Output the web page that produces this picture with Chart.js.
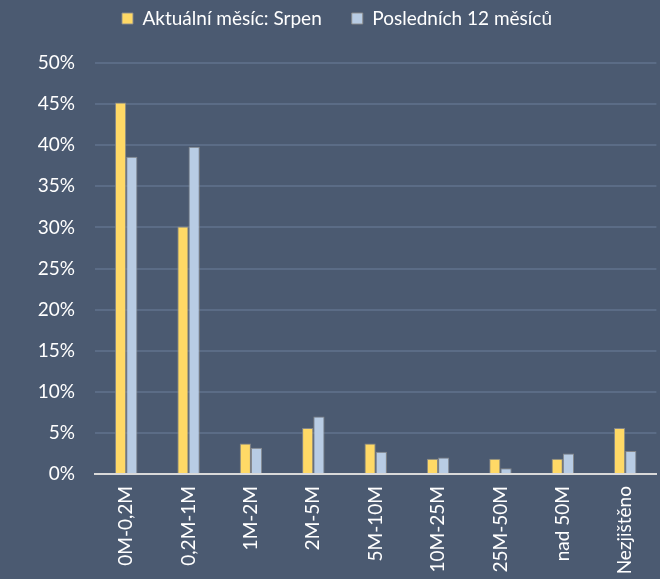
<!DOCTYPE html>
<html>
<head>
<meta charset="utf-8">
<script src="https://cdn.jsdelivr.net/npm/chart.js@4/dist/chart.umd.min.js"></script>
<style>
  html, body { margin: 0; padding: 0; background: #4b5a71; }
  #wrap { width: 660px; height: 579px; position: relative; }
</style>
</head>
<body>
<div id="wrap"><canvas id="c" width="660" height="579"></canvas></div>
<script>
const categories = ["0M-0,2M", "0,2M-1M", "1M-2M", "2M-5M", "5M-10M", "10M-25M", "25M-50M", "nad 50M", "Nezjištěno"];
const seriesNames = ["Aktuální měsíc: Srpen", "Posledních 12 měsíců"];
const currentMonth = [45.2, 30.1, 3.7, 5.6, 3.7, 1.85, 1.85, 1.85, 5.6];
const last12Months = [38.6, 39.8, 3.2, 7.0, 2.7, 2.0, 0.7, 2.5, 2.8];
const yTicks = [0, 5, 10, 15, 20, 25, 30, 35, 40, 45, 50];

const FONT = "Lato, 'Open Sans', sans-serif";
const TEXT = "#ffffff";
const LEGEND_PAD = 30;
const LEGEND_FONT = 19;

const legendTweak = {
  id: 'legendTweak',
  beforeInit(chart) {
    const lg = chart.legend;
    const origFit = lg.fit;
    lg.fit = function () {
      origFit.call(this);
      this.height = 63;
    };
    const origDraw = lg.draw;
    lg.draw = function (...args) {
      const ctx = this.ctx;
      ctx.save();
      ctx.translate(7, -(LEGEND_PAD - 9));
      origDraw.apply(this, args);
      ctx.restore();
    };
  }
};

new Chart(document.getElementById('c'), {
  type: 'bar',
  data: {
    labels: categories,
    datasets: [
      {
        label: seriesNames[0],
        data: currentMonth,
        backgroundColor: '#ffd966',
        borderColor: 'rgba(140,140,140,0.9)',
        borderWidth: 1,
        categoryPercentage: 0.36,
        barPercentage: 1.0
      },
      {
        label: seriesNames[1],
        data: last12Months,
        backgroundColor: '#b8cce4',
        borderColor: 'rgba(140,140,140,0.9)',
        borderWidth: 1,
        categoryPercentage: 0.36,
        barPercentage: 1.0
      }
    ]
  },
  plugins: [legendTweak],
  options: {
    responsive: false,
    animation: false,
    layout: { padding: { left: 0, right: 0, top: 0, bottom: 0 } },
    plugins: {
      tooltip: { enabled: false },
      legend: {
        position: 'top',
        labels: {
          color: TEXT,
          font: { family: FONT, size: LEGEND_FONT },
          boxWidth: 11,
          boxHeight: 11,
          padding: LEGEND_PAD
        }
      }
    },
    scales: {
      x: {
        grid: { display: false, drawTicks: false },
        border: { display: true, color: '#d9d9d9', width: 2 },
        ticks: {
          color: TEXT,
          font: { family: FONT, size: 19 },
          maxRotation: 90,
          minRotation: 90,
          padding: 12,
          autoSkip: false
        },
        afterFit(scale) { scale.height = 105; }
      },
      y: {
        min: 0,
        max: 50,
        afterBuildTicks(scale) { scale.ticks = yTicks.map(v => ({ value: v })); },
        grid: { color: '#5b6c86', lineWidth: 2, drawTicks: false },
        border: { display: false },
        ticks: {
          color: TEXT,
          font: { family: FONT, size: 19 },
          padding: 20,
          callback: v => v + '%'
        },
        afterFit(scale) { scale.width = 95; }
      }
    }
  }
});
</script>
</body>
</html>
